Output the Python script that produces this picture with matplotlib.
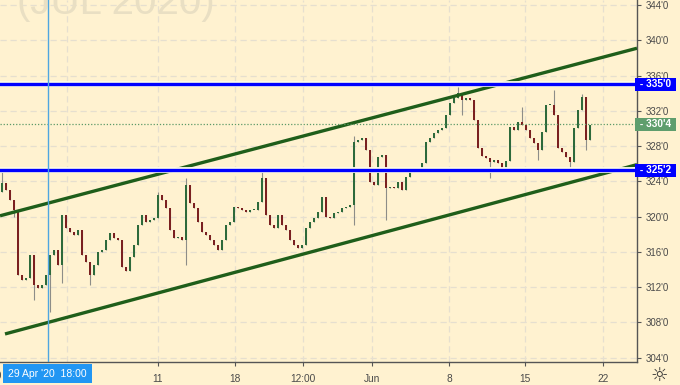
import matplotlib
matplotlib.use("Agg")
import matplotlib.pyplot as plt
from matplotlib.patches import Rectangle

# hourly closes, JUL 2020 contract (price in cents, 1/8 ticks)
closes = [323.8, 323.0, 321.9, 320.8, 313.4, 312.8, 313.0, 315.7, 312.3, 311.9,
          312.3, 313.4, 315.7, 316.2, 314.5, 320.2, 318.7, 318.3, 317.9, 318.5,
          315.7, 314.9, 313.4, 314.5, 316.0, 316.2, 317.4, 318.2, 317.6, 317.4,
          314.3, 313.8, 315.4, 316.8, 319.1, 320.2, 319.4, 319.6, 319.9, 322.5,
          321.9, 321.0, 318.5, 317.6, 317.7, 317.4, 323.6, 321.6, 321.0, 319.4,
          318.3, 317.9, 317.4, 316.8, 316.2, 317.4, 319.1, 319.4, 321.1, 321.0,
          320.8, 320.5, 320.8, 320.8, 321.7, 324.4, 320.2, 319.1, 318.7, 320.2,
          319.1, 318.5, 317.4, 316.8, 316.5, 316.8, 318.7, 319.4, 319.9, 320.5,
          322.2, 320.0, 319.9, 320.4, 320.5, 321.0, 321.1, 321.3, 328.5, 328.7,
          328.9, 327.6, 323.9, 323.6, 326.8, 327.0, 323.3, 323.4, 323.3, 323.9,
          323.0, 324.5, 325.1, 325.5, 325.3, 326.1, 328.5, 328.9, 329.5, 329.8,
          330.1, 331.5, 332.9, 333.5, 334.0, 333.2, 333.5, 333.2, 331.0, 327.8,
          326.9, 326.7, 326.2, 326.4, 326.1, 325.5, 326.3, 330.2, 329.8, 330.7,
          330.4, 329.8, 328.9, 328.4, 327.6, 329.6, 332.7, 332.7, 331.5, 327.8,
          327.3, 326.8, 326.2, 330.1, 332.1, 333.6, 328.7, 330.4]
first_open = 322.8

# wick extremes that stick out beyond the bodies (bar index -> price)
spike_high = {0: 325.3, 39: 322.8, 46: 324.4, 65: 325.3, 88: 329.2, 114: 334.7,
              130: 332.4, 138: 334.4, 145: 333.9}
spike_low = {3: 320.0, 8: 310.6, 12: 309.2, 15: 312.5, 22: 312.2, 46: 314.5,
             88: 319.0, 96: 319.6, 115: 331.5, 122: 324.4, 134: 326.4,
             142: 325.3, 146: 327.6}

# drawn levels and channel (bar index, price)
levels = [335.0, 325.25]
level_labels = ["335'0", "325'2"]
last_price = 330.5
last_label = "330'4"
upper_channel = [(-0.5, 320.1), (158.75, 339.1)]
lower_channel = [(0.75, 306.7), (158.75, 325.9)]

yticks = [304, 308, 312, 316, 320, 324, 328, 332, 336, 340, 344]
xtick_pos = [39, 58.25, 75.25, 92.5, 111.75, 130.75, 150.25]
xtick_labels = ["11", "18", "12:00", "Jun", "8", "15", "22"]
may_grid = 16.25
cursor_x = 11.5
cursor_label = "29 Apr '20  18:00"

BG = "#fff2d0"
W, H = 680, 385

fig = plt.figure(figsize=(W / 100, H / 100), dpi=100)
fig.patch.set_facecolor(BG)
ax = fig.add_axes([0, 23 / H, 637 / W, 362 / H])
ax.set_facecolor(BG)
ax.set_xlim(-0.5, 158.75)
ax.set_ylim(303.52, 344.57)

# grid
for y in yticks:
    ax.axhline(y, color="#e6dfcf", lw=0.9, ls=(0, (5, 3)), zorder=0.5)
for x in [may_grid] + xtick_pos:
    ax.axvline(x, color="#e6dfcf", lw=0.9, ls=(0, (5, 3)), zorder=0.5)

# watermark
ax.text(17 / 637, (362 - 14) / 362, "(JUL 2020)", transform=ax.transAxes,
        fontsize=29, family="Liberation Sans", color="#e9dfc3",
        va="baseline", ha="left", zorder=0.6)

# candles
opens = [first_open] + closes[:-1]
for i, (o, c) in enumerate(zip(opens, closes)):
    hi = max(o, c, spike_high.get(i, -1e9))
    lo = min(o, c, spike_low.get(i, 1e9))
    ax.vlines(i, lo, hi, color="#8d8d88", lw=0.8, zorder=2)
    col = "#2d6a3b" if c >= o else "#7a2020"
    ax.bar(i, c - o if abs(c - o) > 0.08 else 0.08, bottom=o, width=0.7,
           color=col, lw=0, zorder=3)

# channel lines
for seg in (upper_channel, lower_channel):
    ax.plot([p[0] for p in seg], [p[1] for p in seg], color="#1f5e1a",
            lw=2.4, solid_capstyle="butt", zorder=4)

# horizontal levels
for lv in levels:
    ax.axhline(lv, color="#fdfbe8", lw=4.2, zorder=4.5)
    ax.axhline(lv, color="#0000ff", lw=2.4, zorder=5)

ax.axhline(last_price, color="#5c9a68", lw=0.9, ls=(0, (1, 1.5)), zorder=4)

# crosshair
ax.axvline(cursor_x, color="#4fa6e0", lw=1.0, zorder=6)

# axes styling
for s in ("left", "top"):
    ax.spines[s].set_visible(False)
for s in ("right", "bottom"):
    ax.spines[s].set_color("#555555")
    ax.spines[s].set_linewidth(1.0)
ax.yaxis.tick_right()
ax.set_yticks(yticks)
ax.set_yticklabels([f"{v}'0" for v in yticks])
ax.tick_params(axis="y", length=3, width=0.8, color="#555555", pad=3,
               labelsize=7, labelcolor="#4a4a4a")
ax.set_xticks(xtick_pos)
ax.set_xticklabels(xtick_labels)
ax.tick_params(axis="x", length=3, width=0.8, color="#555555", pad=6,
               labelsize=7.3, labelcolor="#4a4a4a")
for lab in ax.get_xticklabels() + ax.get_yticklabels():
    lab.set_family("Liberation Sans")

# price tags on the right scale
def tag(price, text, color):
    ax.text(1.0, price, " - " + text + " ", transform=ax.get_yaxis_transform(),
            ha="left", va="center", fontsize=7.3, family="Liberation Sans",
            color="white", fontweight="bold", clip_on=False, zorder=10,
            bbox=dict(boxstyle="square,pad=0.15", fc=color, ec="none"))

for lv, lb in zip(levels, level_labels):
    tag(lv, lb, "#0000ff")
tag(last_price, last_label, "#5f9e6d")

# cursor date box
fig.text(2 / W, 1 - 376 / H, "30", ha="right", va="center", fontsize=7.3,
         color="#4a4a4a", family="Liberation Sans")
fig.add_artist(Rectangle((3 / W, 1 - 383 / H), 89 / W, 19 / H,
                         transform=fig.transFigure, fc="#2196f3", ec="none",
                         zorder=10))
fig.text(47.5 / W, 1 - 374 / H, cursor_label, ha="center", va="center",
         fontsize=7.5, color="white", family="Liberation Sans", zorder=11)

# settings icon
fig.text(659 / W, 1 - 375 / H, "\u263c", ha="center", va="center",
         fontsize=14, color="#333333", family="DejaVu Sans")

fig.savefig("out.png", dpi=100, facecolor=BG)
